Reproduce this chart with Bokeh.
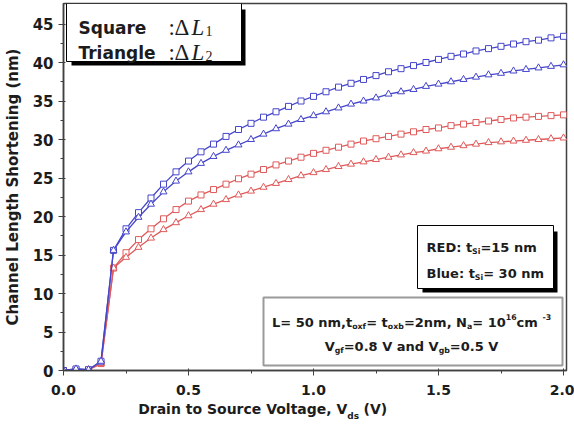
from bokeh.plotting import figure
from bokeh.models import (Label, BoxAnnotation, FixedTicker, PrintfTickFormatter, Range1d,
                          LinearAxis)
from bokeh.embed import file_html
from bokeh.resources import INLINE

# ---------------- data ----------------
vds = [0.00, 0.05, 0.10, 0.15, 0.20, 0.25, 0.30, 0.35, 0.40, 0.45,
       0.50, 0.55, 0.60, 0.65, 0.70, 0.75, 0.80, 0.85, 0.90, 0.95,
       1.00, 1.05, 1.10, 1.15, 1.20, 1.25, 1.30, 1.35, 1.40, 1.45,
       1.50, 1.55, 1.60, 1.65, 1.70, 1.75, 1.80, 1.85, 1.90, 1.95, 2.00]

# Blue: tSi = 30 nm
blue_dl1 = [0.0, 0.2, 0.1, 1.2, 15.6, 18.4, 20.5, 22.4, 24.2, 25.8,
            27.2, 28.4, 29.4, 30.4, 31.3, 32.1, 32.9, 33.6, 34.3, 35.0,
            35.6, 36.2, 36.8, 37.3, 37.8, 38.3, 38.8, 39.2, 39.6, 40.0,
            40.4, 40.8, 41.1, 41.5, 41.8, 42.1, 42.4, 42.7, 42.9, 43.2, 43.4]
blue_dl2 = [0.0, 0.2, 0.1, 1.2, 15.6, 18.0, 19.9, 21.6, 23.2, 24.6,
            25.8, 26.9, 27.8, 28.6, 29.3, 30.0, 30.7, 31.4, 32.0, 32.6,
            33.1, 33.6, 34.1, 34.6, 35.0, 35.4, 35.9, 36.2, 36.5, 36.9,
            37.2, 37.5, 37.8, 38.1, 38.4, 38.6, 38.9, 39.1, 39.3, 39.5, 39.7]
# Red: tSi = 15 nm
red_dl1 = [0.0, 0.1, 0.1, 0.9, 13.3, 15.3, 17.0, 18.4, 19.7, 20.9,
           22.0, 22.8, 23.5, 24.2, 24.9, 25.5, 26.1, 26.7, 27.2, 27.7,
           28.2, 28.6, 29.0, 29.4, 29.8, 30.1, 30.4, 30.7, 31.0, 31.3,
           31.5, 31.8, 32.0, 32.2, 32.4, 32.6, 32.8, 32.9, 33.0, 33.1, 33.2]
red_dl2 = [0.0, 0.1, 0.1, 0.9, 13.3, 14.7, 16.0, 17.2, 18.3, 19.2,
           20.1, 20.9, 21.6, 22.2, 22.8, 23.3, 23.8, 24.3, 24.8, 25.3,
           25.7, 26.1, 26.5, 26.8, 27.1, 27.4, 27.7, 28.0, 28.3, 28.5,
           28.8, 29.0, 29.2, 29.4, 29.6, 29.7, 29.8, 29.9, 30.0, 30.1, 30.2]

x_ticks = [0.0, 0.5, 1.0, 1.5, 2.0]
x_minor = [0.25, 0.75, 1.25, 1.75]
y_ticks = [0, 5, 10, 15, 20, 25, 30, 35, 40, 45]
y_minor = [2.5, 7.5, 12.5, 17.5, 22.5, 27.5, 32.5, 37.5, 42.5]

# ---------------- geometry (page px; the canvas sits at the page origin) ----------------
OX, OY = 0, 0
PX_LEFT, PX_X2, PX_RIGHT = 63, 563, 566     # frame left, x=2.0, frame right
PY_TOP, PY_ZERO = 3, 370                    # frame top, y=0 (frame bottom)
SX = (PX_X2 - PX_LEFT) / 2.0
SY = 7.7
XR0, XR1 = 0.0, (PX_RIGHT - PX_LEFT) / SX
YR0, YR1 = 0.0, (PY_ZERO - PY_TOP) / SY

BLUE = "#4646cc"
RED = "#e05a5a"
TXT = "#1c1c1c"
FONT = "DejaVu Sans"
W, H = 574, 427

p = figure(width=W, height=H, x_range=Range1d(XR0, XR1), y_range=Range1d(YR0, YR1),
           output_backend="svg", toolbar_location=None,
           min_border_left=PX_LEFT - OX, min_border_right=OX + W - PX_RIGHT,
           min_border_top=PY_TOP - OY, min_border_bottom=OY + H - PY_ZERO)
p.background_fill_color = "white"
p.border_fill_color = "white"
p.xgrid.visible = False
p.ygrid.visible = False
p.outline_line_color = "#404040"
p.outline_line_width = 1.5

for ax in (p.xaxis[0], p.yaxis[0]):
    ax.axis_line_color = "#404040"
    ax.axis_line_width = 1.5
    ax.major_tick_line_color = "#404040"
    ax.minor_tick_line_color = "#404040"
    ax.major_tick_out = 5
    ax.major_tick_in = 2
    ax.minor_tick_out = 3
    ax.minor_tick_in = 0
    ax.major_label_text_font = FONT
    ax.major_label_text_font_style = "bold"
    ax.major_label_text_color = TXT

p.xaxis.major_label_text_font_size = "14px"
p.yaxis.major_label_text_font_size = "15px"
p.xaxis.major_label_standoff = 9
p.yaxis.major_label_standoff = 5
p.xaxis.ticker = FixedTicker(ticks=x_ticks, minor_ticks=x_minor)
p.xaxis.formatter = PrintfTickFormatter(format="%.1f")
p.yaxis.ticker = FixedTicker(ticks=y_ticks, minor_ticks=y_minor)
p.yaxis.formatter = PrintfTickFormatter(format="%d")
p.yaxis.axis_label = "Channel Length Shortening (nm)"
p.yaxis.axis_label_text_font = FONT
p.yaxis.axis_label_text_font_style = "bold"
p.yaxis.axis_label_text_font_size = "15px"
p.yaxis.axis_label_text_color = TXT
p.yaxis.axis_label_standoff = 8

# ---------------- curves ----------------
for ys, col, mk, sz in ((red_dl1, RED, "square", 6), (red_dl2, RED, "triangle", 7),
                        (blue_dl1, BLUE, "square", 6), (blue_dl2, BLUE, "triangle", 7)):
    p.line(vds, ys, line_color=col, line_width=1.3)
    p.scatter(vds, ys, marker=mk, size=sz, fill_color="white", line_color=col, line_width=1)


# ---------------- helpers (reference page px -> data) ----------------
def dx(px):
    return (px - PX_LEFT) / SX


def dy(py):
    return (PY_ZERO - py) / SY


CW = {' ': 0.348, '(': 0.457, ')': 0.457, ',': 0.380, '-': 0.415, '.': 0.380, ':': 0.400,
      '=': 0.838, 'B': 0.762, 'D': 0.830, 'E': 0.683, 'L': 0.637, 'N': 0.837, 'R': 0.770,
      'S': 0.720, 'V': 0.774, 'a': 0.675, 'b': 0.716, 'c': 0.593, 'd': 0.716, 'e': 0.678,
      'f': 0.435, 'g': 0.716, 'i': 0.343, 'l': 0.343, 'm': 1.042, 'n': 0.712, 'o': 0.687,
      'r': 0.493, 's': 0.595, 't': 0.478, 'u': 0.712, 'x': 0.663}


def tw(s):
    return sum(0.696 if ch.isdigit() else CW.get(ch, 0.68) for ch in s)


def draw_seq(parts, x0, base, fs, align="left"):
    items = []
    for txt, kind in parts:
        if kind == "n":
            size, off = fs, 0.0
        elif kind == "sub":
            size, off = fs * 0.6, fs * 0.28
        else:
            size, off = fs * 0.6, -fs * 0.45
        items.append((txt, size, off))
    total = sum(tw(t) * s for t, s, _ in items)
    x = x0 - total / 2 if align == "center" else x0
    for txt, size, off in items:
        p.add_layout(Label(x=dx(x), y=dy(base + off), text=txt, text_font=FONT,
                           text_font_style="bold", text_font_size=f"{size:.1f}px",
                           text_color=TXT, text_baseline="alphabetic", text_align="left"))
        x += tw(txt) * size


def box(l, r, t, b, shadow=True, border="black", bw=1):
    if shadow:
        p.add_layout(BoxAnnotation(left=dx(l + 5), right=dx(r + 4), top=dy(t + 6), bottom=dy(b + 4),
                                   fill_color="black", fill_alpha=1, line_color=None))
    p.add_layout(BoxAnnotation(left=dx(l), right=dx(r), top=dy(t), bottom=dy(b),
                               fill_color="white", fill_alpha=1, line_color=border,
                               line_width=bw, line_alpha=1))


# Legend box (top-left)
box(66, 241, 3, 61)
draw_seq([("Square", "n")], 78, 27, 17)
draw_seq([("Triangle", "n")], 78, 52, 17)
for base, sub in ((27, "1"), (52, "2")):
    p.add_layout(Label(x=dx(168), y=dy(base), text=":", text_font="Liberation Serif",
                       text_font_size="23px", text_color=TXT, text_baseline="alphabetic"))
    p.add_layout(Label(x=dx(174), y=dy(base), text="Δ", text_font="Liberation Serif",
                       text_font_size="23px", text_color=TXT, text_baseline="alphabetic"))
    p.add_layout(Label(x=dx(191), y=dy(base), text="L", text_font="Liberation Serif",
                       text_font_style="italic", text_font_size="23px", text_color=TXT,
                       text_baseline="alphabetic"))
    p.add_layout(Label(x=dx(205), y=dy(base + 3), text=sub, text_font="Liberation Serif",
                       text_font_size="14px", text_color=TXT, text_baseline="alphabetic"))

# tSi box
box(417, 553, 225, 288)
draw_seq([("RED: t", "n"), ("Si", "sub"), ("=15 nm", "n")], 426, 247, 13)
draw_seq([("Blue: t", "n"), ("Si", "sub"), ("= 30 nm", "n")], 426, 273, 13)

# Parameter box
box(263, 562, 297, 365, shadow=False, border="#9a9a9a", bw=2)
draw_seq([("L= 50 nm,t", "n"), ("oxf", "sub"), ("= t", "n"), ("oxb", "sub"), ("=2nm, N", "n"),
          ("a", "sub"), ("= 10", "n"), ("16", "sup"), (" cm", "n"), ("-3", "sup")],
         411, 322, 13, align="center")
draw_seq([("V", "n"), ("gf", "sub"), ("=0.8 V and V", "n"), ("gb", "sub"), ("=0.5 V", "n")],
         411, 346, 13, align="center")

# ---------------- x-axis title (pieces placed as tick labels of label-only axes) ----------------
TFS = 14
title_main = "Drain to Source Voltage, V"
title_sub = "ds"
title_end = "(V)"
w_main = tw(title_main) * TFS
w_sub = tw(title_sub) * TFS * 0.6
w_gap = tw(" ") * TFS
w_end = tw(title_end) * TFS
x_start = 262 - (w_main + w_sub + w_gap + w_end) / 2
c_main = round(dx(x_start + w_main / 2), 4)
c_sub = round(dx(x_start + w_main + w_sub / 2), 4)
c_end = round(dx(x_start + w_main + w_sub + w_gap + w_end / 2), 4)


def label_axis(ticks, overrides, size, standoff):
    ax = LinearAxis(ticker=FixedTicker(ticks=ticks, minor_ticks=[]),
                    major_label_overrides=overrides)
    ax.axis_line_color = None
    ax.major_tick_line_color = None
    ax.minor_tick_line_color = None
    ax.major_tick_out = 0
    ax.major_tick_in = 0
    ax.minor_tick_out = 0
    ax.minor_tick_in = 0
    ax.major_label_standoff = standoff
    ax.major_label_text_font = FONT
    ax.major_label_text_font_style = "bold"
    ax.major_label_text_font_size = f"{size}px"
    ax.major_label_text_color = TXT
    p.add_layout(ax, "below")


label_axis([c_main, c_end], {c_main: title_main, c_end: title_end}, TFS, 3)
label_axis([c_sub], {c_sub: title_sub}, 9, -9)

open("out.html", "w").write(file_html(p, INLINE))
